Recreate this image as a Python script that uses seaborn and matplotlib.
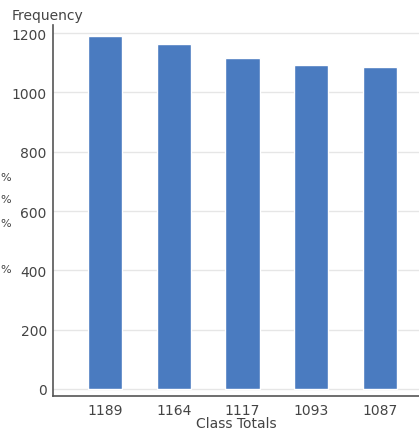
import matplotlib
matplotlib.use('Agg')
import matplotlib.pyplot as plt
import seaborn as sns
import pandas as pd

# data
classes = ['1189', '1164', '1117', '1093', '1087']
frequency = [1189, 1164, 1117, 1093, 1087]
y_ticks = [0, 200, 400, 600, 800, 1000, 1200]

df = pd.DataFrame({'Class Totals': classes, 'Frequency': frequency})

sns.set_style('white')
plt.rcParams['font.family'] = ['DejaVu Sans']

text_col = '#444444'
axis_col = '#555555'

fig = plt.figure(figsize=(4.19, 4.31), dpi=100)
ax = fig.add_axes([53 / 419, 1 - 397 / 431, 1 - 53 / 419, (397 - 26) / 431])

sns.barplot(data=df, x='Class Totals', y='Frequency', color='#4a7bc0',
            width=0.5, saturation=1, ax=ax, zorder=3)

ax.set_xlim(-0.756, 4.567)
ax.set_ylim(-23.6, 1227)
ax.set_yticks(y_ticks)
ax.yaxis.grid(True, color='#e6e6e6', linewidth=1, zorder=0)

for s in ['top', 'right']:
    ax.spines[s].set_visible(False)
for s in ['left', 'bottom']:
    ax.spines[s].set_color(axis_col)
    ax.spines[s].set_linewidth(1.2)

ax.tick_params(axis='y', direction='inout', length=5, width=1, color=axis_col,
               labelsize=10, labelcolor=text_col, pad=2)
ax.tick_params(axis='x', direction='in', length=4, width=1, color=axis_col,
               labelsize=10, labelcolor=text_col, pad=5)

ax.set_ylabel('')
ax.set_xlabel('Class Totals', fontsize=10, color=text_col, labelpad=-1)
fig.text(12 / 419, 1 - 16 / 431, 'Frequency', fontsize=10, color=text_col,
         ha='left', va='center')

# fragments at the left edge
for yy in [178, 200, 224, 270]:
    fig.text(0, 1 - yy / 431, '%', fontsize=8, color=text_col,
             ha='left', va='center')

fig.savefig('out.png', dpi=100)
plt.close(fig)
